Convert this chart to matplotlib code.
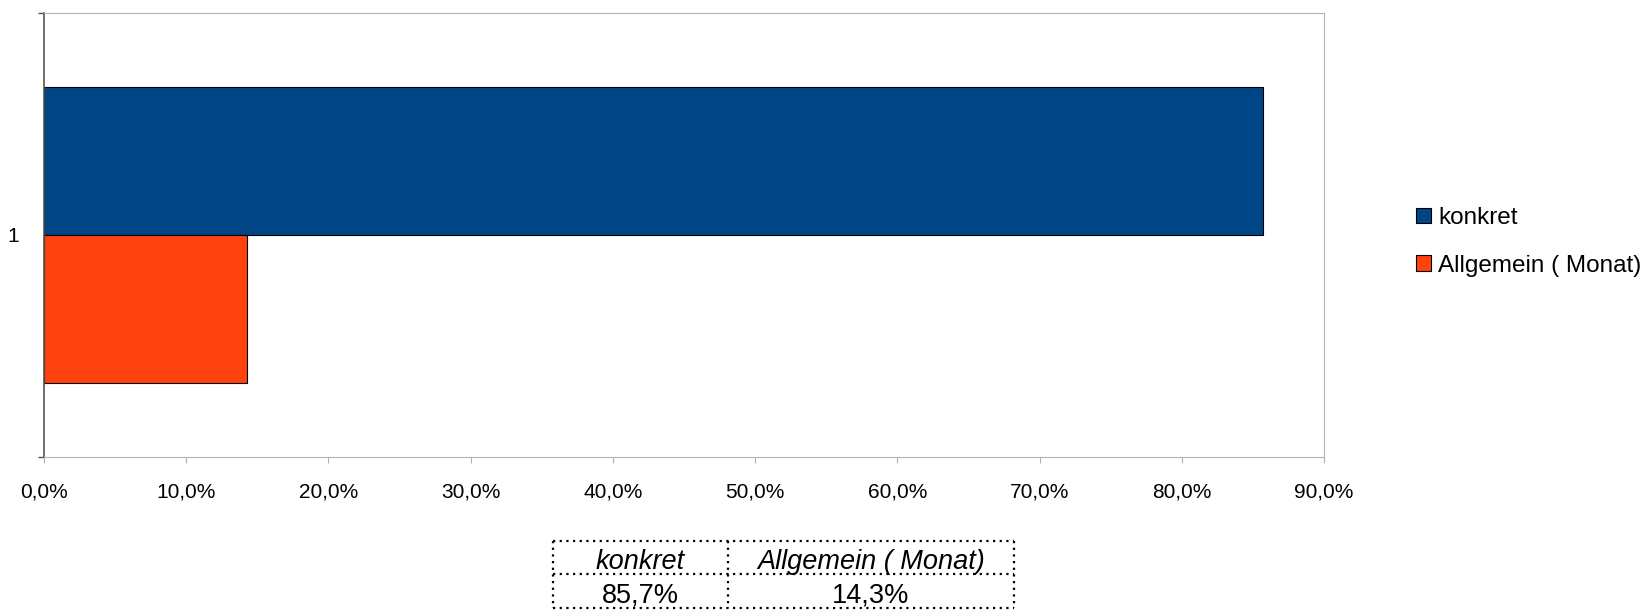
import matplotlib
matplotlib.use('Agg')
import matplotlib.pyplot as plt
from matplotlib.patches import Patch
from matplotlib.lines import Line2D
from matplotlib.ticker import FuncFormatter

plt.rcParams['font.family'] = ['Liberation Sans', 'DejaVu Sans']

categories = ['konkret', 'Allgemein ( Monat)']
values = [85.7, 14.3]
colors = ['#004586', '#ff420e']
xticks = [0, 10, 20, 30, 40, 50, 60, 70, 80, 90]
fs_tick = 15
fs_leg = 17.5
fs_tab = 19.5

fig = plt.figure(figsize=(16.43, 6.10), dpi=100)
ax = fig.add_axes([44/1643, 1 - 456.7/610, (1324 - 44)/1643, (456.7 - 13)/610])

# two bars in one category, first on top
offsets = [1/6, -1/6]
for v, c, off in zip(values, colors, offsets):
    ax.barh(off, v, height=1/3, color=c, edgecolor='black', linewidth=0.8)

ax.set_xlim(0, 90)
ax.set_ylim(-0.5, 0.5)
ax.set_xticks(xticks)
ax.xaxis.set_major_formatter(FuncFormatter(lambda x, *a: ('%.1f%%' % x).replace('.', ',')))
ax.tick_params(axis='x', colors='#b3b3b3', labelcolor='black', labelsize=fs_tick,
               length=4.3, pad=14.4)

ax.set_yticks([0])
ax.set_yticklabels(['1'])
ax.set_yticks([-0.5, 0.5], minor=True)
ax.tick_params(axis='y', which='major', length=0, labelsize=fs_tick, pad=18)
ax.tick_params(axis='y', which='minor', length=4.3, color='#555555', width=1)

for s in ['top', 'right', 'bottom']:
    ax.spines[s].set_color('#b3b3b3')
ax.spines['left'].set_color('#555555')
ax.spines['left'].set_linewidth(1.2)

# legend
handles = [Patch(facecolor=c, edgecolor='black', linewidth=0.8) for c in colors]
fig.legend(handles, categories, loc='upper left', bbox_to_anchor=(1416/1643, 1 - 207/610),
           frameon=False, fontsize=fs_leg, handlelength=0.6, handleheight=0.6,
           handletextpad=0.3, labelspacing=1.05, borderpad=0, borderaxespad=0)

# data table below the chart
W, H = 1643, 610
xs = [553, 728, 1014]
ys = [541, 574, 608]
dot = dict(color='black', linewidth=1.6, linestyle=(0, (1, 2)), dash_capstyle='butt')
for y in ys:
    fig.add_artist(Line2D([xs[0]/W, xs[-1]/W], [1 - y/H, 1 - y/H], **dot))
for x in xs:
    fig.add_artist(Line2D([x/W, x/W], [1 - ys[0]/H, 1 - ys[-1]/H], **dot))
for i, (cat, v) in enumerate(zip(categories, values)):
    cx = (xs[i] + xs[i + 1]) / 2 / W
    fig.text(cx, 1 - 569/H, cat, ha='center', va='baseline', fontsize=fs_tab, style='italic')
    fig.text(cx, 1 - 603/H, ('%.1f%%' % v).replace('.', ','), ha='center', va='baseline',
             fontsize=fs_tab)

fig.savefig('out.png', dpi=100)
